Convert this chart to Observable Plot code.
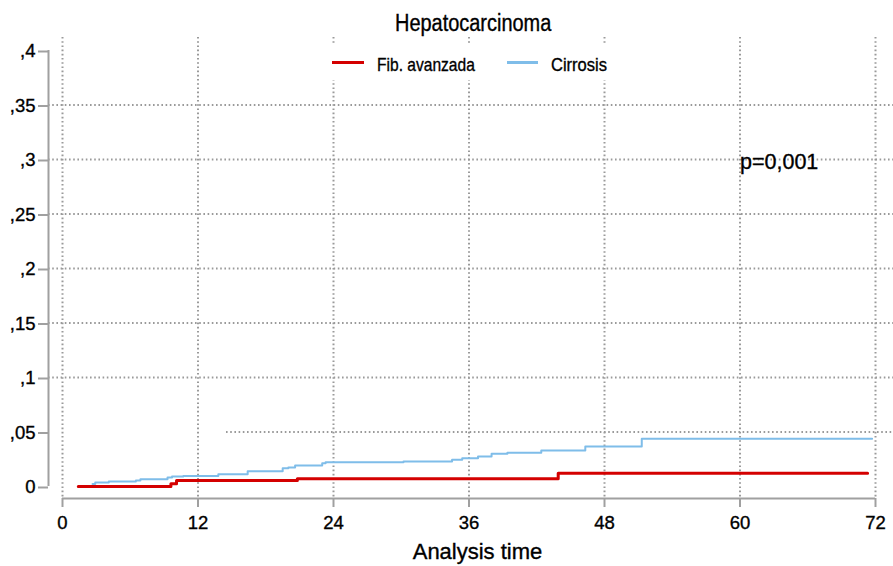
<!DOCTYPE html>
<html><head><meta charset="utf-8">
<script src="https://cdn.jsdelivr.net/npm/d3@7"></script>
<script src="https://cdn.jsdelivr.net/npm/@observablehq/plot@0.6"></script>
<style>
body{margin:0;background:#fff;}
#wrap{position:relative;width:893px;height:566px;font-family:"Liberation Sans",Arial,sans-serif;color:#000;overflow:hidden;}
#wrap svg{position:absolute;left:0;top:0;}
#wrap svg text{stroke:#000;stroke-width:0.35px;}
.abs{position:absolute;white-space:nowrap;line-height:1;-webkit-text-stroke:0.35px #000;}
</style></head><body><div id="wrap"></div>
<script>
// ---- data ----
const titleText = "Hepatocarcinoma";
const xLabel = "Analysis time";
const seriesNames = ["Fib. avanzada", "Cirrosis"];
const seriesColors = ["#d40000", "#7fbde9"];
const xTicks = [0, 12, 24, 36, 48, 60, 72];
const yTicks = [0, 0.05, 0.1, 0.15, 0.2, 0.25, 0.3, 0.35, 0.4];
const fibTime  = [1.4, 9.6, 10.1, 20.8, 43.9, 71.3];
const fibValue = [0, 0.0025, 0.0055, 0.0072, 0.0122, 0.0122];
const cirTime  = [2.66, 2.9, 4.1, 6.5, 6.9, 9.3, 9.7, 10.7, 13.8, 16.4, 19.5, 20.0, 20.6, 23.0, 23.3, 30.2, 34.5, 35.4, 36.8, 38.0, 39.4, 42.4, 46.3, 51.3, 71.7];
const cirValue = [0.0023, 0.0037, 0.0046, 0.0055, 0.0067, 0.0083, 0.0092, 0.0096, 0.0113, 0.014, 0.0168, 0.0174, 0.0193, 0.0214, 0.0223, 0.0229, 0.0245, 0.026, 0.0275, 0.030, 0.031, 0.033, 0.0367, 0.0437, 0.0437];
const noteText = ["p=0,001"];
const noteX = [60];
const noteY = [0.3];

// ---- build ----
const fibRows = fibTime.map((t, i) => ({t, v: fibValue[i]}));
const cirRows = cirTime.map((t, i) => ({t, v: cirValue[i]}));
const noteRows = noteText.map((label, i) => ({label, x: noteX[i], y: noteY[i]}));
const fmt = v => v === 0 ? "0" : d3.format(".2~f")(v).replace(/^0\./, ",");

const gridStyle = {stroke: "#9a9a9a", strokeOpacity: 1, strokeWidth: 2, strokeDasharray: "1.6,2.6"};
const axisColor = "#a0a0a0";

const chart = Plot.plot({
  width: 893, height: 566,
  marginLeft: 62, marginRight: 18, marginTop: 50, marginBottom: 80,
  x: {domain: [xTicks[0], xTicks[xTicks.length - 1]]},
  y: {domain: [yTicks[0], yTicks[yTicks.length - 1]]},
  style: {fontFamily: '"Liberation Sans", Arial, sans-serif', fontSize: "18px", color: "#000", background: "transparent"},
  marks: [
    Plot.gridX(xTicks, {...gridStyle, insetTop: -13, insetBottom: -12}),
    Plot.gridY(yTicks.filter(v => v > 0.06 && v < 0.39), {...gridStyle, insetLeft: -14, insetRight: -18}),
    Plot.gridY(yTicks.filter(v => v > 0.01 && v < 0.06), {...gridStyle, insetLeft: 164, insetRight: -18}),
    Plot.ruleX([xTicks[0]], {y1: yTicks[0], y2: yTicks[yTicks.length - 1], dx: -14, stroke: axisColor, strokeWidth: 2}),
    Plot.ruleY([yTicks[0]], {x1: xTicks[0], x2: xTicks[xTicks.length - 1], dy: 12, stroke: axisColor, strokeWidth: 2}),
    Plot.axisY(yTicks, {tickSize: 10, tickPadding: 3, dx: -14, dy: 1, tickFormat: fmt, stroke: axisColor, strokeWidth: 2, fill: "#000", label: null, fontSize: 18.5}),
    Plot.axisX(xTicks, {tickSize: 9, tickPadding: 8, dy: 12, stroke: axisColor, strokeWidth: 2, fill: "#000", label: null, fontSize: 18.5}),
    Plot.line(cirRows, {x: "t", y: "v", curve: "step-after", stroke: seriesColors[1], strokeWidth: 2}),
    Plot.line(fibRows, {x: "t", y: "v", curve: "step-after", stroke: seriesColors[0], strokeWidth: 3}),
    Plot.text(noteRows, {x: "x", y: "y", text: "label", textAnchor: "start", fontSize: 21.5, dy: 3, fill: "#000"})
  ]
});

const wrap = document.getElementById("wrap");
wrap.appendChild(chart);

function addEl(html, css) {
  const el = document.createElement("div");
  el.className = "abs";
  el.innerHTML = html;
  Object.assign(el.style, css);
  wrap.appendChild(el);
  return el;
}
// legend background
addEl("", {left: "322px", top: "44px", width: "293px", height: "36px", background: "#fff"});
// title
addEl(titleText, {left: "395px", top: "12px", fontSize: "23px", transform: "scaleX(0.867)", transformOrigin: "left top"});
// legend
addEl("", {left: "332px", top: "60.5px", width: "32px", height: "3px", background: seriesColors[0]});
addEl(seriesNames[0], {left: "377px", top: "55px", fontSize: "19px", transform: "scaleX(0.82)", transformOrigin: "left top"});
addEl("", {left: "507px", top: "60.5px", width: "31px", height: "3px", background: seriesColors[1]});
addEl(seriesNames[1], {left: "551px", top: "55px", fontSize: "19px", transform: "scaleX(0.87)", transformOrigin: "left top"});
// x label
addEl(xLabel, {left: "477.5px", top: "541px", fontSize: "22px", transform: "translateX(-50%)"});
</script></body></html>
